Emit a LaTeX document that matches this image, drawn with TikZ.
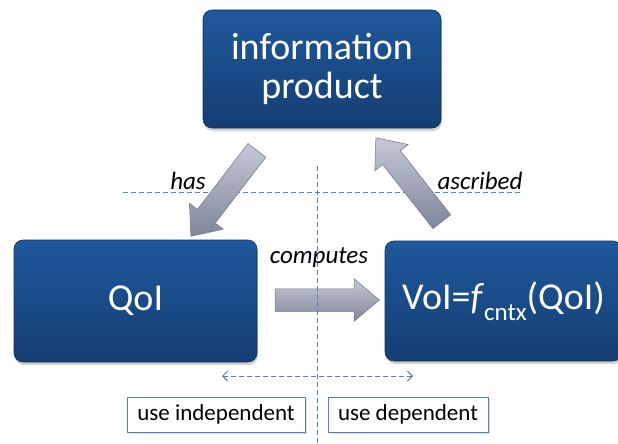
\documentclass[tikz,border=0pt]{standalone}
\usepackage{fontspec}
\setmainfont{Carlito}
\usetikzlibrary{calc,shapes.arrows,shadows,arrows.meta}

\definecolor{boxtop}{RGB}{31,88,156}
\definecolor{boxbot}{RGB}{21,62,114}
\definecolor{boxedge}{RGB}{18,50,92}
\definecolor{arrlight}{RGB}{196,200,214}
\definecolor{arrdark}{RGB}{128,134,155}
\definecolor{arredge}{RGB}{112,118,138}
\definecolor{guide}{RGB}{79,129,189}

\tikzset{
  bluebox/.style={draw=boxedge, line width=0.6pt, rounded corners=9pt,
    top color=boxtop, bottom color=boxbot, text=white, align=center,
    font=\fontsize{38}{39}\selectfont,
    drop shadow={shadow xshift=1pt, shadow yshift=-3pt, opacity=0.35}},
  blockarr/.style={single arrow, draw=arredge, line width=0.5pt,
    top color=arrlight, bottom color=arrdark,
    inner xsep=0pt, inner ysep=11pt, single arrow head extend=10pt,
    single arrow tip angle=80, anchor=center},
  guideline/.style={draw=guide, line width=0.9pt, dash pattern=on 5pt off 3pt},
  tagbox/.style={draw=guide, line width=0.9pt, fill=white, inner sep=0pt,
    minimum height=35pt, font=\fontsize{23}{26}\selectfont,
    drop shadow={shadow xshift=1.5pt, shadow yshift=-1.5pt, opacity=0.25}},
  verb/.style={font=\fontsize{25}{28}\selectfont\itshape, inner sep=0pt}
}

% thick shaded block arrow between two named points
\newcommand\blockarrow[3]{%
  \path let \p1=(#2), \p2=(#3),
            \n1={atan2(\y2-\y1,\x2-\x1)},
            \n2={veclen(\x2-\x1,\y2-\y1)} in
    node[blockarr, rotate=\n1, minimum height=\n2] (#1) at ($(#2)!0.5!(#3)$) {};}

\begin{document}
\begin{tikzpicture}[x=1pt,y=-1pt]
  \useasboundingbox (0,0) rectangle (618,444);

  % the three concept boxes
  \node[bluebox, minimum width=238pt, minimum height=118pt] (ip) at (322,69) {information\\product};
  \node[bluebox, minimum width=243pt, minimum height=122pt] (qoi) at (135.5,301) {QoI};
  \node[bluebox, minimum width=237pt, minimum height=120pt] (voi) at (503.5,301)
    {VoI=\textit{f}\raisebox{-0.28em}{\fontsize{25}{25}\selectfont cntx}(QoI)};

  % computes: QoI -> VoI
  \coordinate (cTail) at ($(qoi.east)+(11,-1)$);
  \coordinate (cTip)  at ($(voi.west)+(-12,-1)$);
  \blockarrow{computes}{cTail}{cTip}

  % guide lines
  \coordinate (hl) at (123,192);
  \coordinate (hr) at (520,192);
  \coordinate (vt) at (317,166);
  \coordinate (vb) at (317,446);
  \draw[guideline] (hl) -- (hr);
  \draw[guideline] (vt) -- (vb);

  % has: information product -> QoI
  \coordinate (hTail) at (261,145);
  \coordinate (hTip)  at (195,231);
  \blockarrow{has}{hTail}{hTip}

  % ascribed: VoI -> information product
  \coordinate (aTail) at (446,227);
  \coordinate (aTip)  at (380,143);
  \blockarrow{ascribed}{aTail}{aTip}

  % verb labels
  \node[verb] (lhas) at (188,181) {has};
  \node[verb] (lasc) at (480,181) {ascribed};
  \node[verb] (lcmp) at (319,258) {computes};

  % scope of use
  \coordinate (dl) at (222,376);
  \coordinate (dr) at (413,376);
  \draw[guideline, {Straight Barb[length=5pt,width=10pt]}-{Straight Barb[length=5pt,width=10pt]}] (dl) -- (dr);

  \node[tagbox, minimum width=178pt] (indep) at (216,414.5) {use independent};
  \node[tagbox, minimum width=160pt] (dep) at (408,414.5) {use dependent};
\end{tikzpicture}
\end{document}
